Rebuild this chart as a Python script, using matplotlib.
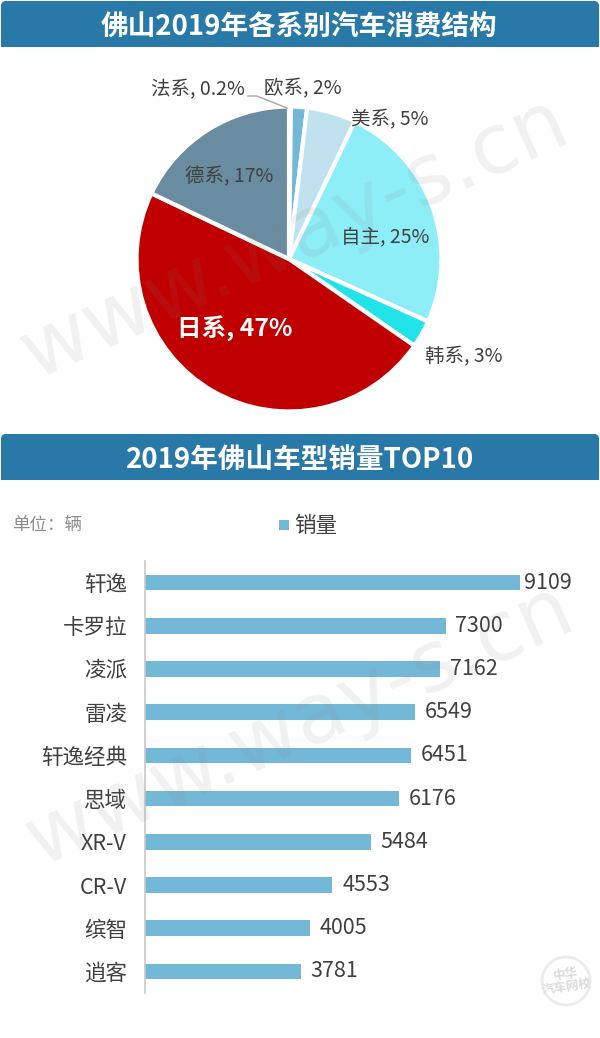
import matplotlib
matplotlib.use("Agg")
import matplotlib.pyplot as plt
from matplotlib.patches import Circle, FancyBboxPatch, Rectangle

plt.rcParams["font.family"] = ["Noto Sans CJK SC", "DejaVu Sans"]

# data
pie_names = ["法系", "欧系", "美系", "自主", "韩系", "日系", "德系"]
# shares, labels below are the printed ones
pie_share = [0.2, 1.7, 5.2, 24.6, 2.9, 47.4, 17.9]
pie_text = ["0.2%", "2%", "5%", "25%", "3%", "47%", "17%"]
pie_colors = ["#2a7aa8", "#74b8d8", "#c0e2ee", "#8eeef8", "#22e2ea", "#c00000", "#6a8ca0"]

car_names = ["轩逸", "卡罗拉", "凌派", "雷凌", "轩逸经典", "思域", "XR-V", "CR-V", "缤智", "逍客"]
car_sales = [9109, 7300, 7162, 6549, 6451, 6176, 5484, 4553, 4005, 3781]

W, H = 600, 1038
BLUE = "#2878a8"
GREY = "#404040"

fig = plt.figure(figsize=(W / 100, H / 100), dpi=100, facecolor="white")


def box(x0, y0, x1, y1):
    # pixel box (y from top) to figure fractions
    return [x0 / W, 1 - y1 / H, (x1 - x0) / W, (y1 - y0) / H]


# overlay in pixel coords for banners, loose text
bg = fig.add_axes([0, 0, 1, 1], zorder=0)
bg.set_xlim(0, W)
bg.set_ylim(H, 0)
bg.axis("off")

for top_y, title in [(1, "佛山2019年各系别汽车消费结构"), (434, "2019年佛山车型销量TOP10")]:
    bg.add_patch(FancyBboxPatch((1, top_y), 598, 30, boxstyle="round,pad=0,rounding_size=5",
                                fc=BLUE, ec="none"))
    bg.add_patch(Rectangle((1, top_y + 15), 598, 31, fc=BLUE, ec="none"))
    bg.text(299, top_y + 27, title, color="white", fontsize=19.9, fontweight="bold",
            ha="center", va="center")

# pie
pie_ax = fig.add_axes(box(135, 105, 443, 413), zorder=2)
pie_ax.pie(pie_share, colors=pie_colors, startangle=90, counterclock=False, radius=1,
           wedgeprops={"edgecolor": "white", "linewidth": 3})
pie_ax.set_xlim(-1.01, 1.01)
pie_ax.set_ylim(-1.01, 1.01)

# bars
bar_ax = fig.add_axes(box(145, 561, 520, 993), zorder=2)
bar_ax.patch.set_alpha(0)
ypos = list(range(len(car_names)))
bars = bar_ax.barh(ypos, car_sales, height=0.36, color="#74b8d8", label="销量")
bar_ax.set_xlim(0, 9109)
bar_ax.set_ylim(9.5, -0.5)
bar_ax.set_yticks(ypos, car_names)
bar_ax.tick_params(axis="y", length=0, pad=13, labelsize=15.5, labelcolor=GREY)
bar_ax.xaxis.set_visible(False)
for s in ["top", "right", "bottom"]:
    bar_ax.spines[s].set_visible(False)
bar_ax.spines["left"].set_color("#c8c8c8")
bar_ax.spines["left"].set_linewidth(1.2)
# longest bar's label sits closer in, as in the original
for i, v in enumerate(car_sales):
    pad = 3 if i == 0 else 7
    bar_ax.annotate(str(v), (v, i), xytext=(pad, 0), textcoords="offset points",
                    fontsize=15.5, color=GREY, va="center", ha="left", annotation_clip=False)

# pie labels and the leader line
top = fig.add_axes([0, 0, 1, 1], zorder=4)
top.set_xlim(0, W)
top.set_ylim(H, 0)
top.axis("off")
label_pos = [(198, 90), (303, 89), (390, 120), (385, 237), (464, 357), (235, 329), (229, 177)]
for i, (x, y) in enumerate(label_pos):
    s = pie_names[i] + ", " + pie_text[i]
    if pie_names[i] == "日系":
        top.text(x, y, s, color="white", fontsize=17.7, fontweight="bold", ha="center", va="center")
    else:
        top.text(x, y, s, color=GREY, fontsize=14, ha="center", va="center")
top.plot([248, 257, 287], [96, 96, 108], color="#a6a6a6", lw=1)

top.text(12, 525, "单位：辆", color="#8c8c8c", fontsize=12.6, ha="left", va="center")
top.add_patch(Rectangle((279, 520), 10, 10, fc="#74b8d8", ec="none"))
top.text(294, 526, "销量", color=GREY, fontsize=15.5, ha="left", va="center")

# watermark sits over everything, very faint
for cx, cy in [(295, 238), (300, 725)]:
    top.text(cx, cy, "www.way-s.cn", color="#808080", alpha=0.11, fontsize=60, rotation=24,
             ha="center", va="center", family="DejaVu Sans")

# faint logo corner
top.add_patch(Circle((566, 981), 24, fc="none", ec="#ececec", lw=2))
top.text(566, 981, "中华\n汽车网校", color="#dcdcdc", fontsize=9, fontweight="bold",
         ha="center", va="center", linespacing=0.95, rotation=8)

fig.savefig("out.png", dpi=100)
